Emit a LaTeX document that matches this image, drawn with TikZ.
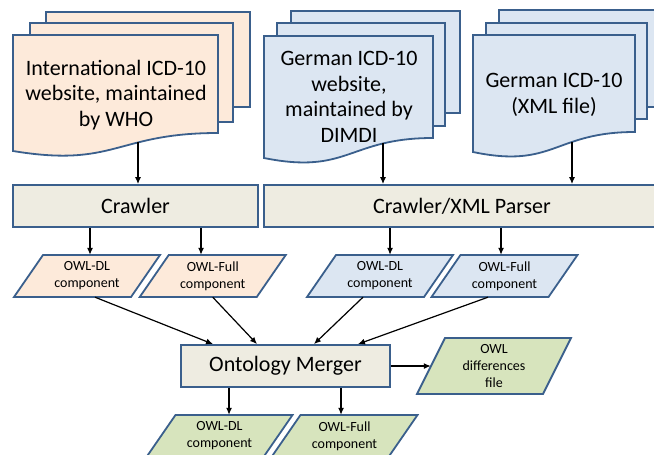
\documentclass[tikz,border=0pt]{standalone}
\usepackage{fontspec}
\setmainfont{Carlito}
\usetikzlibrary{arrows.meta}
\definecolor{bord}{HTML}{3A5F8C}
\definecolor{orangefill}{HTML}{FDEADA}
\definecolor{bluefill}{HTML}{DCE6F2}
\definecolor{greenfill}{HTML}{D7E4BD}
\definecolor{greyfill}{HTML}{EEECE1}
\tikzset{
  boxline/.style={draw=bord, line width=1.8pt, line join=miter},
  procbox/.style={boxline, fill=greyfill, minimum height=42pt, inner sep=0pt, font=\fontsize{22}{26}\selectfont},
  paratext/.style={inner sep=0pt, align=center, font=\fontsize{14}{17}\selectfont},
  doctext/.style={align=center, inner sep=0pt, font=\fontsize{22}{25.5}\selectfont},
  arr/.style={-{Latex[length=7pt,width=6pt]}, line width=1.2pt, black},
}
% back page: L T R B fill
\newcommand\backpage[5]{\draw[boxline, fill=#5] (#1,#2) rectangle (#3,#4);}
% front page: L T R yR yL fill
\newcommand\frontpage[6]{\draw[boxline, fill=#6] (#1,#2) -- (#3,#2) -- (#3,#4)
  .. controls ({(#1+#3)/2},#4) and ({(#1+#3)/2},{#5+17}) .. (#1,#5) -- cycle;}
% parallelogram: name cx cy w h slant fill text
\newcommand\paranode[8]{%
  \draw[boxline, fill=#7] ({#2-#4/2+#6/2},{#3-#5/2}) -- ({#2+#4/2+#6/2},{#3-#5/2})
     -- ({#2+#4/2-#6/2},{#3+#5/2}) -- ({#2-#4/2-#6/2},{#3+#5/2}) -- cycle;
  \node[paratext, minimum width=#4, minimum height=#5] (#1) at (#2,#3) {#8};}
\begin{document}
\begin{tikzpicture}[x=1pt,y=-1pt]
\useasboundingbox (0,0) rectangle (654,455);
\clip (0,0) rectangle (654,455);
% International ICD-10 documents
\backpage{46}{12}{250}{107}{orangefill}
\backpage{30}{23}{233}{122}{orangefill}
\frontpage{13}{35}{218}{133}{151}{orangefill}
\node[doctext] (who) at (116,95) {International ICD-10\\website, maintained\\by WHO};
% German website documents
\backpage{291}{11}{460}{113}{bluefill}
\backpage{277}{23}{445}{126}{bluefill}
\frontpage{264}{36}{433}{138}{158}{bluefill}
\node[doctext] (dimdi) at (349,97) {German ICD-10\\website,\\maintained by\\DIMDI};
% German XML documents
\backpage{499}{10}{670}{107}{bluefill}
\backpage{486}{23}{647}{119}{bluefill}
\frontpage{473}{35}{635}{132}{152}{bluefill}
\node[doctext] (xml) at (554,95) {German ICD-10\\(XML file)};
\coordinate (whoout) at (138,142);
\coordinate (dimdiout) at (383,143);
\coordinate (xmlout) at (572,142);
% process boxes
\node[procbox, minimum width=245pt] (crawler) at (135.5,206) {Crawler};
\node[procbox, minimum width=396pt] (parser) at (462,206) {Crawler/XML Parser};
\node[procbox, minimum width=209pt] (merger) at (285.5,366) {Ontology Merger};
% parallelograms
\paranode{oDL}{87}{276}{117}{42}{29}{orangefill}{OWL-DL\\component}
\paranode{oFull}{212.75}{276}{117}{42}{29}{orangefill}{OWL-Full\\component}
\paranode{bDL}{380}{276}{117}{42}{29}{bluefill}{OWL-DL\\component}
\paranode{bFull}{504.5}{276}{117}{42}{29}{bluefill}{OWL-Full\\component}
\paranode{diff}{494}{366}{126}{56}{28}{greenfill}{OWL\\differences\\file}
\paranode{gDL}{219.5}{436}{117}{42}{29}{greenfill}{OWL-DL\\component}
\paranode{gFull}{344.5}{436}{117}{42}{29}{greenfill}{OWL-Full\\component}
% connectors
\draw[arr] (whoout) -- (whoout |- crawler.north);
\draw[arr] (dimdiout) -- (dimdiout |- parser.north);
\draw[arr] (xmlout) -- (xmlout |- parser.north);
\draw[arr] ([xshift=-45.5pt]crawler.south) -- ([xshift=-45.5pt]crawler.south |- oDL.north);
\draw[arr] ([xshift=65.5pt]crawler.south) -- ([xshift=65.5pt]crawler.south |- oFull.north);
\draw[arr] ([xshift=-72pt]parser.south) -- ([xshift=-72pt]parser.south |- bDL.north);
\draw[arr] ([xshift=39pt]parser.south) -- ([xshift=39pt]parser.south |- bFull.north);
\draw[arr] ([xshift=8pt]oDL.south) -- ([xshift=-72.5pt]merger.north);
\draw[arr] (oFull.south) -- ([xshift=-28.5pt]merger.north);
\draw[arr] ([xshift=-17pt]bDL.south) -- ([xshift=28.5pt]merger.north);
\draw[arr] ([xshift=-16.5pt]bFull.south) -- ([xshift=72.5pt]merger.north);
\draw[arr] (merger.east) -- (diff.west);
\draw[arr] ([xshift=-56.5pt]merger.south) -- ([xshift=-56.5pt]merger.south |- gDL.north);
\draw[arr] ([xshift=55.5pt]merger.south) -- ([xshift=55.5pt]merger.south |- gFull.north);
\end{tikzpicture}
\end{document}
